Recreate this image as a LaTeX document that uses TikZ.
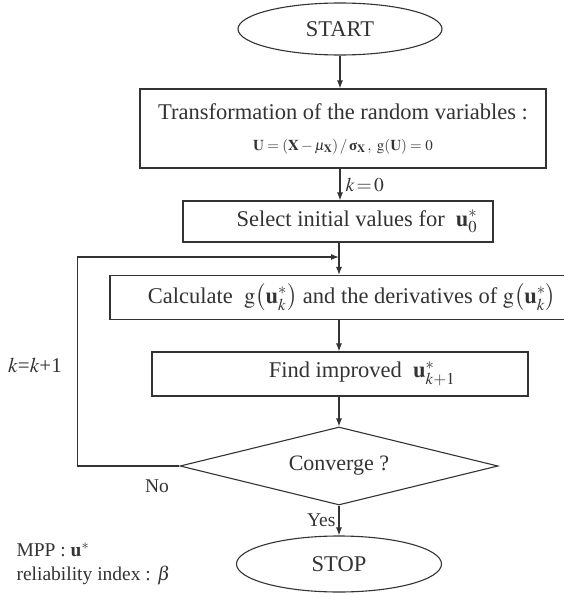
\documentclass[tikz,border=0pt]{standalone}
\usepackage{amsmath}
\usepackage{mathptmx}
\usepackage{fontspec}
\setmainfont{Liberation Serif}
\usetikzlibrary{shapes.geometric,arrows.meta}

\tikzset{
  box/.style={draw, rectangle, inner sep=0pt, font=\fontsize{22.5}{27}\selectfont},
  term/.style={draw, ellipse, inner sep=0pt, font=\fontsize{22.5}{27}\selectfont},
  test/.style={draw, diamond, inner sep=0pt, font=\fontsize{22}{26}\selectfont},
  lbl/.style={font=\fontsize{19.5}{23}\selectfont, inner sep=3pt}
}

\begin{document}
\begin{tikzpicture}[x=1pt,y=-1pt,>={Latex[length=8pt,width=6pt]},line width=1.1pt,color=black!80]
  \useasboundingbox (0,0) rectangle (563,597);
  \node[term, minimum width=204pt, minimum height=52pt] (start) at (340,29) {START};
  \node[box, minimum width=406pt, minimum height=79pt, align=center] (trans) at (343,128.5)
    {Transformation of the random variables :\hspace{8pt}\\[4pt]
     {\fontsize{15}{17}\selectfont $\mathbf{U}=(\mathbf{X}-\mu_{\mathbf{X}})\,/\,\text{\textbf{σ}}_{\mathbf{X}}\,,\ \mathrm{g}(\mathbf{U})=0$}\hspace{8pt}};
  \node[box, minimum width=310pt, minimum height=41pt] (select) at (338,221.5)
    {\hspace{38pt}Select initial values for \ $\mathbf{u}^{*}_{0}$};
  \node[box, minimum width=484pt, minimum height=44pt] (calc) at (352,297.5)
    {Calculate \ $\mathrm{g}\bigl(\mathbf{u}^{*}_{k}\bigr)$ and the derivatives of $\mathrm{g}\bigl(\mathbf{u}^{*}_{k}\bigr)$};
  \node[box, minimum width=376pt, minimum height=44pt] (find) at (340,374)
    {\hspace{44pt}Find improved \ $\mathbf{u}^{*}_{k+1}$};
  \node[test, minimum width=318pt, minimum height=78pt, aspect=4] (conv) at (339,466) {Converge ?};
  \node[term, minimum width=205pt, minimum height=56pt] (stop) at (339,564) {STOP};
  \coordinate (join) at (339,257);

  \node[lbl, font=\fontsize{21}{25}\selectfont] (kinc) at (35,365) {$k$=$k$+1};
  \node[lbl] (no) at (157,486) {No};
  \node[lbl, align=left, anchor=west, inner sep=0pt] (mpp) at (16,563.5)
    {MPP : $\mathbf{u}^{*}$\\[1pt] reliability index : $\beta$};

  \draw[->] (start) -- (start |- trans.north);
  \draw[->] (trans.south -| start) -- node[lbl, right, inner sep=5pt] {$k\,{=}\,0$} (select.north -| start);
  \draw[->] (select.south -| join) -- (calc.north -| join);
  \draw[->] (calc.south -| join) -- (find.north -| join);
  \draw[->] (find.south -| join) -- (conv.north);
  \draw[->] (conv.south) -- node[lbl, left] {Yes} (stop.north);
  \draw[->] (conv.west) -- ++(-102,0) |- (join);
\end{tikzpicture}
\end{document}
